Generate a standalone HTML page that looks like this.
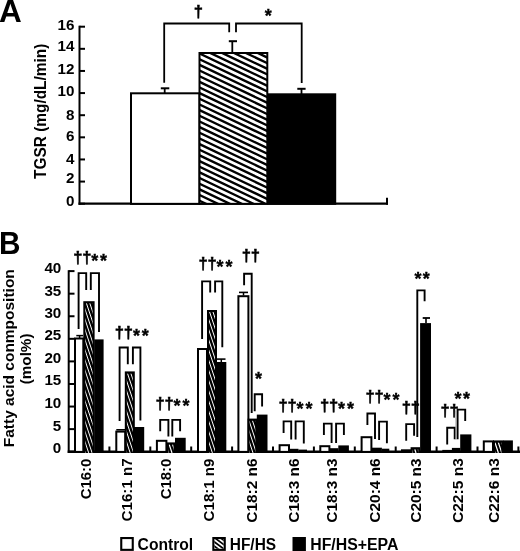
<!DOCTYPE html>
<html lang="en"><head><meta charset="utf-8"><title>Figure</title>
<style>
html,body{margin:0;padding:0;background:#fff;}
body{width:520px;height:551px;overflow:hidden;}
svg{display:block;}
text{font-family:'Liberation Sans', Arial, Helvetica, sans-serif;font-weight:bold;fill:#000;}
text.dg{stroke:#000;stroke-width:0.5px;stroke-linejoin:miter;}
text.as{stroke:#000;stroke-width:0.35px;}
</style></head><body>
<svg width="520" height="551" viewBox="0 0 520 551">
<defs>
</defs>
<rect x="0" y="0" width="520" height="551" fill="#fff"/>
<text x="-1.00" y="21.70" font-size="31.5" text-anchor="start">A</text>
<text x="46.00" y="179.00" font-size="15.6" text-anchor="start" textLength="135.40" lengthAdjust="spacingAndGlyphs" transform="rotate(-90 46.00 179.00)">TGSR (mg/dL/min)</text>
<text x="74.50" y="30.25" font-size="15.2" text-anchor="end">16</text>
<line x1="79.50" y1="26.70" x2="85.00" y2="26.70" stroke="#000" stroke-width="2" stroke-linecap="butt"/>
<text x="74.50" y="51.15" font-size="15.2" text-anchor="end">14</text>
<line x1="79.50" y1="48.82" x2="85.00" y2="48.82" stroke="#000" stroke-width="2" stroke-linecap="butt"/>
<text x="74.50" y="74.15" font-size="15.2" text-anchor="end">12</text>
<line x1="79.50" y1="70.95" x2="85.00" y2="70.95" stroke="#000" stroke-width="2" stroke-linecap="butt"/>
<text x="74.50" y="96.15" font-size="15.2" text-anchor="end">10</text>
<line x1="79.50" y1="93.07" x2="85.00" y2="93.07" stroke="#000" stroke-width="2" stroke-linecap="butt"/>
<text x="74.50" y="119.95" font-size="15.2" text-anchor="end">8</text>
<line x1="79.50" y1="115.20" x2="85.00" y2="115.20" stroke="#000" stroke-width="2" stroke-linecap="butt"/>
<text x="74.50" y="141.05" font-size="15.2" text-anchor="end">6</text>
<line x1="79.50" y1="137.32" x2="85.00" y2="137.32" stroke="#000" stroke-width="2" stroke-linecap="butt"/>
<text x="74.50" y="163.55" font-size="15.2" text-anchor="end">4</text>
<line x1="79.50" y1="159.45" x2="85.00" y2="159.45" stroke="#000" stroke-width="2" stroke-linecap="butt"/>
<text x="74.50" y="183.25" font-size="15.2" text-anchor="end">2</text>
<line x1="79.50" y1="181.57" x2="85.00" y2="181.57" stroke="#000" stroke-width="2" stroke-linecap="butt"/>
<text x="74.50" y="206.05" font-size="15.2" text-anchor="end">0</text>
<line x1="79.50" y1="203.70" x2="85.00" y2="203.70" stroke="#000" stroke-width="2" stroke-linecap="butt"/>
<line x1="79.50" y1="25.70" x2="79.50" y2="204.85" stroke="#000" stroke-width="2" stroke-linecap="butt"/>
<line x1="78.50" y1="203.70" x2="388.00" y2="203.70" stroke="#000" stroke-width="2.3" stroke-linecap="butt"/>
<line x1="387.00" y1="197.70" x2="387.00" y2="204.85" stroke="#000" stroke-width="2" stroke-linecap="butt"/>
<rect x="131.00" y="93.30" width="68.50" height="110.55" fill="#fff" stroke="#000" stroke-width="2"/>
<rect x="199.50" y="53.00" width="67.80" height="150.85" fill="#fff" stroke="#000" stroke-width="2"/>
<clipPath id="ca"><rect x="199.5" y="53" width="67.8" height="151"/></clipPath>
<path d="M198.5 7.77L270.5 42.04M198.5 13.43L270.5 47.70M198.5 19.09L270.5 53.36M198.5 24.75L270.5 59.02M198.5 30.41L270.5 64.68M198.5 36.07L270.5 70.34M198.5 41.73L270.5 76.00M198.5 47.39L270.5 81.66M198.5 53.05L270.5 87.32M198.5 58.71L270.5 92.98M198.5 64.37L270.5 98.64M198.5 70.03L270.5 104.30M198.5 75.69L270.5 109.96M198.5 81.35L270.5 115.62M198.5 87.01L270.5 121.28M198.5 92.67L270.5 126.94M198.5 98.33L270.5 132.60M198.5 103.99L270.5 138.26M198.5 109.65L270.5 143.92M198.5 115.31L270.5 149.58M198.5 120.97L270.5 155.24M198.5 126.63L270.5 160.90M198.5 132.29L270.5 166.56M198.5 137.95L270.5 172.22M198.5 143.61L270.5 177.88M198.5 149.27L270.5 183.54M198.5 154.93L270.5 189.20M198.5 160.59L270.5 194.86M198.5 166.25L270.5 200.52M198.5 171.91L270.5 206.18M198.5 177.57L270.5 211.84M198.5 183.23L270.5 217.50M198.5 188.89L270.5 223.16M198.5 194.55L270.5 228.82M198.5 200.21L270.5 234.48" stroke="#000" stroke-width="2.35" fill="none" clip-path="url(#ca)"/>
<rect x="267.30" y="93.30" width="68.90" height="111.55" fill="#000"/>
<line x1="164.70" y1="93.00" x2="164.70" y2="88.30" stroke="#000" stroke-width="1.8" stroke-linecap="butt"/>
<line x1="160.80" y1="88.30" x2="169.30" y2="88.30" stroke="#000" stroke-width="2" stroke-linecap="butt"/>
<line x1="232.30" y1="53.00" x2="232.30" y2="41.20" stroke="#000" stroke-width="1.8" stroke-linecap="butt"/>
<line x1="228.80" y1="41.20" x2="237.00" y2="41.20" stroke="#000" stroke-width="2" stroke-linecap="butt"/>
<line x1="301.50" y1="94.00" x2="301.50" y2="88.80" stroke="#000" stroke-width="1.8" stroke-linecap="butt"/>
<line x1="297.30" y1="88.80" x2="305.60" y2="88.80" stroke="#000" stroke-width="2" stroke-linecap="butt"/>
<polyline points="164.20,82.80 164.20,23.50 229.20,23.50 229.20,32.30" fill="none" stroke="#000" stroke-width="1.8" stroke-linejoin="miter"/>
<polyline points="236.00,32.30 236.00,23.50 301.70,23.50 301.70,83.00" fill="none" stroke="#000" stroke-width="1.8" stroke-linejoin="miter"/>
<text class="dg" x="193.77" y="17.27" font-size="16.6">†</text>
<text class="as" x="264.79" y="21.89" font-size="18">*</text>
<text x="-1.00" y="254.10" font-size="30.8" text-anchor="start" textLength="21.50" lengthAdjust="spacingAndGlyphs">B</text>
<text x="14.20" y="447.20" font-size="15.2" text-anchor="start" textLength="178.00" lengthAdjust="spacingAndGlyphs" transform="rotate(-90 14.20 447.20)">Fatty acid conmposition</text>
<text x="31.50" y="384.30" font-size="15.5" text-anchor="start" textLength="50.80" lengthAdjust="spacingAndGlyphs" transform="rotate(-90 31.50 384.30)">(mol%)</text>
<text x="61.30" y="453.45" font-size="15.2" text-anchor="end">0</text>
<line x1="68.70" y1="451.70" x2="74.50" y2="451.70" stroke="#000" stroke-width="2" stroke-linecap="butt"/>
<text x="61.30" y="430.55" font-size="15.2" text-anchor="end">5</text>
<line x1="68.70" y1="429.12" x2="74.50" y2="429.12" stroke="#000" stroke-width="2" stroke-linecap="butt"/>
<text x="61.30" y="408.05" font-size="15.2" text-anchor="end">10</text>
<line x1="68.70" y1="406.55" x2="74.50" y2="406.55" stroke="#000" stroke-width="2" stroke-linecap="butt"/>
<text x="61.30" y="385.45" font-size="15.2" text-anchor="end">15</text>
<line x1="68.70" y1="383.98" x2="74.50" y2="383.98" stroke="#000" stroke-width="2" stroke-linecap="butt"/>
<text x="61.30" y="363.25" font-size="15.2" text-anchor="end">20</text>
<line x1="68.70" y1="361.40" x2="74.50" y2="361.40" stroke="#000" stroke-width="2" stroke-linecap="butt"/>
<text x="61.30" y="340.15" font-size="15.2" text-anchor="end">25</text>
<line x1="68.70" y1="338.82" x2="74.50" y2="338.82" stroke="#000" stroke-width="2" stroke-linecap="butt"/>
<text x="61.30" y="317.95" font-size="15.2" text-anchor="end">30</text>
<line x1="68.70" y1="316.25" x2="74.50" y2="316.25" stroke="#000" stroke-width="2" stroke-linecap="butt"/>
<text x="61.30" y="295.95" font-size="15.2" text-anchor="end">35</text>
<line x1="68.70" y1="293.68" x2="74.50" y2="293.68" stroke="#000" stroke-width="2" stroke-linecap="butt"/>
<text x="61.30" y="272.65" font-size="15.2" text-anchor="end">40</text>
<line x1="68.70" y1="271.10" x2="74.50" y2="271.10" stroke="#000" stroke-width="2" stroke-linecap="butt"/>
<line x1="68.70" y1="270.20" x2="68.70" y2="452.95" stroke="#000" stroke-width="2" stroke-linecap="butt"/>
<line x1="67.70" y1="451.70" x2="520.00" y2="451.70" stroke="#000" stroke-width="2.4" stroke-linecap="butt"/>
<line x1="109.40" y1="446.50" x2="109.40" y2="452.90" stroke="#000" stroke-width="2" stroke-linecap="butt"/>
<line x1="150.30" y1="446.50" x2="150.30" y2="452.90" stroke="#000" stroke-width="2" stroke-linecap="butt"/>
<line x1="191.20" y1="446.50" x2="191.20" y2="452.90" stroke="#000" stroke-width="2" stroke-linecap="butt"/>
<line x1="232.10" y1="446.50" x2="232.10" y2="452.90" stroke="#000" stroke-width="2" stroke-linecap="butt"/>
<line x1="273.00" y1="446.50" x2="273.00" y2="452.90" stroke="#000" stroke-width="2" stroke-linecap="butt"/>
<line x1="313.90" y1="446.50" x2="313.90" y2="452.90" stroke="#000" stroke-width="2" stroke-linecap="butt"/>
<line x1="354.80" y1="446.50" x2="354.80" y2="452.90" stroke="#000" stroke-width="2" stroke-linecap="butt"/>
<line x1="395.70" y1="446.50" x2="395.70" y2="452.90" stroke="#000" stroke-width="2" stroke-linecap="butt"/>
<line x1="436.60" y1="446.50" x2="436.60" y2="452.90" stroke="#000" stroke-width="2" stroke-linecap="butt"/>
<line x1="477.50" y1="446.50" x2="477.50" y2="452.90" stroke="#000" stroke-width="2" stroke-linecap="butt"/>
<line x1="518.40" y1="446.50" x2="518.40" y2="452.90" stroke="#000" stroke-width="2" stroke-linecap="butt"/>
<rect x="75.00" y="338.50" width="8.30" height="113.40" fill="#fff" stroke="#000" stroke-width="2"/>
<rect x="83.30" y="301.20" width="11.30" height="151.70" fill="#000"/>
<clipPath id="c1"><rect x="85.30" y="303.20" width="7.30" height="149.70"/></clipPath>
<path d="M81.90 452.90L32.00 303.20M85.30 452.90L35.40 303.20M88.70 452.90L38.80 303.20M92.10 452.90L42.20 303.20M95.50 452.90L45.60 303.20M98.90 452.90L49.00 303.20M102.30 452.90L52.40 303.20M105.70 452.90L55.80 303.20M109.10 452.90L59.20 303.20M112.50 452.90L62.60 303.20M115.90 452.90L66.00 303.20M119.30 452.90L69.40 303.20M122.70 452.90L72.80 303.20M126.10 452.90L76.20 303.20M129.50 452.90L79.60 303.20M132.90 452.90L83.00 303.20M136.30 452.90L86.40 303.20M139.70 452.90L89.80 303.20M143.10 452.90L93.20 303.20" stroke="#fff" stroke-width="1.0" fill="none" clip-path="url(#c1)"/>
<rect x="94.20" y="339.40" width="9.40" height="113.50" fill="#000"/>
<rect x="116.30" y="431.60" width="8.90" height="20.30" fill="#fff" stroke="#000" stroke-width="2"/>
<rect x="124.80" y="371.40" width="10.00" height="81.50" fill="#000"/>
<clipPath id="c2"><rect x="126.80" y="373.40" width="6.00" height="79.50"/></clipPath>
<path d="M123.40 452.90L96.90 373.40M126.80 452.90L100.30 373.40M130.20 452.90L103.70 373.40M133.60 452.90L107.10 373.40M137.00 452.90L110.50 373.40M140.40 452.90L113.90 373.40M143.80 452.90L117.30 373.40M147.20 452.90L120.70 373.40M150.60 452.90L124.10 373.40M154.00 452.90L127.50 373.40M157.40 452.90L130.90 373.40M160.80 452.90L134.30 373.40" stroke="#fff" stroke-width="1.0" fill="none" clip-path="url(#c2)"/>
<rect x="134.00" y="427.00" width="10.20" height="25.90" fill="#000"/>
<rect x="156.90" y="440.80" width="9.50" height="11.10" fill="#fff" stroke="#000" stroke-width="2"/>
<rect x="166.60" y="442.40" width="8.90" height="10.50" fill="#000"/>
<clipPath id="c3"><rect x="168.60" y="444.40" width="4.90" height="8.50"/></clipPath>
<path d="M165.20 452.90L162.37 444.40M168.60 452.90L165.77 444.40M172.00 452.90L169.17 444.40M175.40 452.90L172.57 444.40M178.80 452.90L175.97 444.40" stroke="#fff" stroke-width="1.25" fill="none" clip-path="url(#c3)"/>
<rect x="175.00" y="437.80" width="10.70" height="15.10" fill="#000"/>
<rect x="198.00" y="349.00" width="9.00" height="102.90" fill="#fff" stroke="#000" stroke-width="2"/>
<rect x="207.00" y="310.00" width="10.00" height="142.90" fill="#000"/>
<clipPath id="c4"><rect x="209.00" y="312.00" width="6.00" height="140.90"/></clipPath>
<path d="M205.60 452.90L158.63 312.00M209.00 452.90L162.03 312.00M212.40 452.90L165.43 312.00M215.80 452.90L168.83 312.00M219.20 452.90L172.23 312.00M222.60 452.90L175.63 312.00M226.00 452.90L179.03 312.00M229.40 452.90L182.43 312.00M232.80 452.90L185.83 312.00M236.20 452.90L189.23 312.00M239.60 452.90L192.63 312.00M243.00 452.90L196.03 312.00M246.40 452.90L199.43 312.00M249.80 452.90L202.83 312.00M253.20 452.90L206.23 312.00M256.60 452.90L209.63 312.00M260.00 452.90L213.03 312.00M263.40 452.90L216.43 312.00" stroke="#fff" stroke-width="1.0" fill="none" clip-path="url(#c4)"/>
<rect x="216.40" y="362.00" width="9.90" height="90.90" fill="#000"/>
<rect x="238.40" y="296.20" width="10.00" height="155.70" fill="#fff" stroke="#000" stroke-width="2"/>
<rect x="247.60" y="418.60" width="9.70" height="34.30" fill="#000"/>
<clipPath id="c5"><rect x="249.60" y="420.60" width="5.70" height="32.30"/></clipPath>
<path d="M246.20 452.90L235.43 420.60M249.60 452.90L238.83 420.60M253.00 452.90L242.23 420.60M256.40 452.90L245.63 420.60M259.80 452.90L249.03 420.60M263.20 452.90L252.43 420.60M266.60 452.90L255.83 420.60" stroke="#fff" stroke-width="1.0" fill="none" clip-path="url(#c5)"/>
<rect x="256.80" y="414.60" width="10.70" height="38.30" fill="#000"/>
<rect x="279.60" y="445.20" width="9.40" height="6.70" fill="#fff" stroke="#000" stroke-width="2"/>
<rect x="289.80" y="448.80" width="8.70" height="4.10" fill="#000"/>
<rect x="298.50" y="449.60" width="8.50" height="3.30" fill="#000"/>
<rect x="320.30" y="446.20" width="9.10" height="5.70" fill="#fff" stroke="#000" stroke-width="2"/>
<rect x="329.80" y="448.20" width="8.70" height="4.70" fill="#000"/>
<rect x="338.30" y="445.40" width="10.60" height="7.50" fill="#000"/>
<rect x="361.60" y="437.20" width="9.80" height="14.70" fill="#fff" stroke="#000" stroke-width="2"/>
<rect x="371.80" y="447.70" width="10.10" height="5.20" fill="#000"/>
<rect x="381.90" y="448.70" width="7.40" height="4.20" fill="#000"/>
<rect x="401.00" y="449.30" width="10.00" height="3.60" fill="#000"/>
<rect x="410.60" y="447.20" width="9.60" height="5.70" fill="#000"/>
<clipPath id="c6"><rect x="412.60" y="449.20" width="5.60" height="3.70"/></clipPath>
<path d="M409.20 452.90L407.97 449.20M412.60 452.90L411.37 449.20M416.00 452.90L414.77 449.20M419.40 452.90L418.17 449.20M422.80 452.90L421.57 449.20" stroke="#fff" stroke-width="1.25" fill="none" clip-path="url(#c6)"/>
<rect x="420.10" y="323.10" width="10.90" height="129.80" fill="#000"/>
<rect x="442.30" y="449.90" width="9.70" height="3.00" fill="#000"/>
<rect x="451.90" y="447.90" width="8.50" height="5.00" fill="#000"/>
<rect x="460.20" y="434.40" width="11.20" height="18.50" fill="#000"/>
<rect x="483.80" y="441.40" width="9.20" height="10.50" fill="#fff" stroke="#000" stroke-width="2"/>
<rect x="493.00" y="440.40" width="10.40" height="12.50" fill="#000"/>
<clipPath id="c7"><rect x="495.00" y="442.40" width="6.40" height="10.50"/></clipPath>
<path d="M491.60 452.90L488.10 442.40M495.00 452.90L491.50 442.40M498.40 452.90L494.90 442.40M501.80 452.90L498.30 442.40M505.20 452.90L501.70 442.40" stroke="#fff" stroke-width="1.25" fill="none" clip-path="url(#c7)"/>
<rect x="503.00" y="440.40" width="9.90" height="12.50" fill="#000"/>
<line x1="79.60" y1="338.00" x2="79.60" y2="335.60" stroke="#000" stroke-width="1.5" stroke-linecap="butt"/>
<line x1="76.30" y1="335.60" x2="83.00" y2="335.60" stroke="#000" stroke-width="1.5" stroke-linecap="butt"/>
<line x1="116.30" y1="429.80" x2="125.20" y2="429.80" stroke="#000" stroke-width="1.6" stroke-linecap="butt"/>
<line x1="221.30" y1="362.00" x2="221.30" y2="359.10" stroke="#000" stroke-width="1.5" stroke-linecap="butt"/>
<line x1="216.80" y1="359.10" x2="225.50" y2="359.10" stroke="#000" stroke-width="1.6" stroke-linecap="butt"/>
<line x1="243.50" y1="295.50" x2="243.50" y2="292.40" stroke="#000" stroke-width="1.5" stroke-linecap="butt"/>
<line x1="239.00" y1="292.40" x2="248.00" y2="292.40" stroke="#000" stroke-width="1.6" stroke-linecap="butt"/>
<line x1="426.00" y1="323.10" x2="426.00" y2="318.00" stroke="#000" stroke-width="1.6" stroke-linecap="butt"/>
<line x1="422.70" y1="318.00" x2="430.00" y2="318.00" stroke="#000" stroke-width="1.8" stroke-linecap="butt"/>
<polyline points="78.60,329.00 78.60,273.10 86.20,273.10 86.20,290.00" fill="none" stroke="#000" stroke-width="1.9" stroke-linejoin="miter"/>
<polyline points="90.80,290.00 90.80,273.10 99.00,273.10 99.00,331.90" fill="none" stroke="#000" stroke-width="1.9" stroke-linejoin="miter"/>
<polyline points="119.60,420.90 119.60,347.50 127.80,347.50 127.80,364.20" fill="none" stroke="#000" stroke-width="1.9" stroke-linejoin="miter"/>
<polyline points="132.90,364.20 132.90,347.50 140.40,347.50 140.40,420.40" fill="none" stroke="#000" stroke-width="1.9" stroke-linejoin="miter"/>
<polyline points="160.20,431.20 160.20,419.90 168.40,419.90 168.40,436.40" fill="none" stroke="#000" stroke-width="1.9" stroke-linejoin="miter"/>
<polyline points="172.30,436.40 172.30,419.90 180.10,419.90 180.10,431.20" fill="none" stroke="#000" stroke-width="1.9" stroke-linejoin="miter"/>
<polyline points="202.10,339.00 202.10,281.40 210.20,281.40 210.20,292.40" fill="none" stroke="#000" stroke-width="1.9" stroke-linejoin="miter"/>
<polyline points="215.10,292.40 215.10,281.40 222.30,281.40 222.30,347.30" fill="none" stroke="#000" stroke-width="1.9" stroke-linejoin="miter"/>
<polyline points="244.10,285.20 244.10,273.70 251.70,273.70 251.70,412.90" fill="none" stroke="#000" stroke-width="1.9" stroke-linejoin="miter"/>
<polyline points="254.70,411.30 254.70,394.30 262.10,394.30 262.10,406.40" fill="none" stroke="#000" stroke-width="1.9" stroke-linejoin="miter"/>
<polyline points="283.60,432.90 283.60,421.40 291.20,421.40 291.20,439.60" fill="none" stroke="#000" stroke-width="1.9" stroke-linejoin="miter"/>
<polyline points="295.60,439.60 295.60,421.40 303.80,421.40 303.80,443.50" fill="none" stroke="#000" stroke-width="1.9" stroke-linejoin="miter"/>
<polyline points="323.90,435.10 323.90,423.60 331.60,423.60 331.60,443.00" fill="none" stroke="#000" stroke-width="1.9" stroke-linejoin="miter"/>
<polyline points="336.10,443.00 336.10,423.60 343.90,423.60 343.90,435.10" fill="none" stroke="#000" stroke-width="1.9" stroke-linejoin="miter"/>
<polyline points="367.40,425.00 367.40,413.50 375.00,413.50 375.00,439.10" fill="none" stroke="#000" stroke-width="1.9" stroke-linejoin="miter"/>
<polyline points="379.10,440.10 379.10,421.60 386.90,421.60 386.90,443.20" fill="none" stroke="#000" stroke-width="1.9" stroke-linejoin="miter"/>
<polyline points="406.20,440.70 406.20,424.10 414.10,424.10 414.10,435.70" fill="none" stroke="#000" stroke-width="1.9" stroke-linejoin="miter"/>
<polyline points="417.30,437.00 417.30,290.40 424.60,290.40 424.60,301.30" fill="none" stroke="#000" stroke-width="1.9" stroke-linejoin="miter"/>
<polyline points="447.20,444.40 447.20,427.80 454.70,427.80 454.70,439.30" fill="none" stroke="#000" stroke-width="1.9" stroke-linejoin="miter"/>
<polyline points="457.60,439.30 457.60,409.60 465.20,409.60 465.20,420.90" fill="none" stroke="#000" stroke-width="1.9" stroke-linejoin="miter"/>
<line x1="456.20" y1="410.50" x2="456.20" y2="439.30" stroke="#999" stroke-width="1.4" stroke-linecap="butt"/>
<text class="dg" x="73.17" y="263.47" font-size="16.6">†</text>
<text class="dg" x="82.17" y="263.47" font-size="16.6">†</text>
<text class="as" x="91.18" y="266.88" font-size="18">*</text>
<text class="as" x="100.08" y="266.88" font-size="18">*</text>
<text class="dg" x="114.87" y="338.37" font-size="16.6">†</text>
<text class="dg" x="123.87" y="338.37" font-size="16.6">†</text>
<text class="as" x="132.89" y="341.78" font-size="18">*</text>
<text class="as" x="141.78" y="341.78" font-size="18">*</text>
<text class="dg" x="155.57" y="409.07" font-size="16.6">†</text>
<text class="dg" x="164.57" y="409.07" font-size="16.6">†</text>
<text class="as" x="173.59" y="412.48" font-size="18">*</text>
<text class="as" x="182.49" y="412.48" font-size="18">*</text>
<text class="dg" x="198.47" y="269.47" font-size="16.6">†</text>
<text class="dg" x="207.47" y="269.47" font-size="16.6">†</text>
<text class="as" x="216.49" y="272.88" font-size="18">*</text>
<text class="as" x="225.39" y="272.88" font-size="18">*</text>
<text class="dg" x="241.67" y="260.67" font-size="16.6">†</text>
<text class="dg" x="250.67" y="260.67" font-size="16.6">†</text>
<text class="as" x="254.99" y="385.38" font-size="18">*</text>
<text class="dg" x="278.57" y="411.27" font-size="16.6">†</text>
<text class="dg" x="287.57" y="411.27" font-size="16.6">†</text>
<text class="as" x="296.59" y="414.69" font-size="18">*</text>
<text class="as" x="305.49" y="414.69" font-size="18">*</text>
<text class="dg" x="320.07" y="411.27" font-size="16.6">†</text>
<text class="dg" x="329.07" y="411.27" font-size="16.6">†</text>
<text class="as" x="338.09" y="414.69" font-size="18">*</text>
<text class="as" x="346.99" y="414.69" font-size="18">*</text>
<text class="dg" x="365.57" y="402.17" font-size="16.6">†</text>
<text class="dg" x="374.57" y="402.17" font-size="16.6">†</text>
<text class="as" x="383.59" y="405.58" font-size="18">*</text>
<text class="as" x="392.49" y="405.58" font-size="18">*</text>
<text class="dg" x="401.77" y="413.47" font-size="16.6">†</text>
<text class="dg" x="410.77" y="413.47" font-size="16.6">†</text>
<text class="as" x="414.49" y="284.69" font-size="18">*</text>
<text class="as" x="422.79" y="284.69" font-size="18">*</text>
<text class="dg" x="440.47" y="416.37" font-size="16.6">†</text>
<text class="dg" x="449.47" y="416.37" font-size="16.6">†</text>
<text class="as" x="454.59" y="404.88" font-size="18">*</text>
<text class="as" x="462.89" y="404.88" font-size="18">*</text>
<text x="91.40" y="499.30" font-size="15.5" text-anchor="start" textLength="40.70" lengthAdjust="spacingAndGlyphs" transform="rotate(-90 91.40 499.30)">C16:0</text>
<text x="131.60" y="521.40" font-size="15.5" text-anchor="start" textLength="63.10" lengthAdjust="spacingAndGlyphs" transform="rotate(-90 131.60 521.40)">C16:1 n7</text>
<text x="171.40" y="499.30" font-size="15.5" text-anchor="start" textLength="40.70" lengthAdjust="spacingAndGlyphs" transform="rotate(-90 171.40 499.30)">C18:0</text>
<text x="213.90" y="521.40" font-size="15.5" text-anchor="start" textLength="62.90" lengthAdjust="spacingAndGlyphs" transform="rotate(-90 213.90 521.40)">C18:1 n9</text>
<text x="257.40" y="522.70" font-size="15.5" text-anchor="start" textLength="64.20" lengthAdjust="spacingAndGlyphs" transform="rotate(-90 257.40 522.70)">C18:2 n6</text>
<text x="299.50" y="522.70" font-size="15.5" text-anchor="start" textLength="64.20" lengthAdjust="spacingAndGlyphs" transform="rotate(-90 299.50 522.70)">C18:3 n6</text>
<text x="337.00" y="522.70" font-size="15.5" text-anchor="start" textLength="64.20" lengthAdjust="spacingAndGlyphs" transform="rotate(-90 337.00 522.70)">C18:3 n3</text>
<text x="380.30" y="522.70" font-size="15.5" text-anchor="start" textLength="64.40" lengthAdjust="spacingAndGlyphs" transform="rotate(-90 380.30 522.70)">C20:4 n6</text>
<text x="421.30" y="522.70" font-size="15.5" text-anchor="start" textLength="64.20" lengthAdjust="spacingAndGlyphs" transform="rotate(-90 421.30 522.70)">C20:5 n3</text>
<text x="462.90" y="523.00" font-size="15.5" text-anchor="start" textLength="64.80" lengthAdjust="spacingAndGlyphs" transform="rotate(-90 462.90 523.00)">C22:5 n3</text>
<text x="498.50" y="523.00" font-size="15.5" text-anchor="start" textLength="64.80" lengthAdjust="spacingAndGlyphs" transform="rotate(-90 498.50 523.00)">C22:6 n3</text>
<rect x="121.25" y="538.05" width="11.50" height="11.80" fill="#fff" stroke="#000" stroke-width="2.1"/>
<text x="137.60" y="549.50" font-size="16" text-anchor="start" textLength="55.60" lengthAdjust="spacingAndGlyphs">Control</text>
<rect x="212.30" y="537.00" width="13.50" height="13.90" fill="#000"/>
<clipPath id="cl"><rect x="214.4" y="539.1" width="9.3" height="9.7"/></clipPath>
<rect x="214.4" y="539.1" width="9.3" height="9.7" fill="#fff"/>
<path d="M212 514.30L228 526.30M212 518.60L228 530.60M212 522.90L228 534.90M212 527.20L228 539.20M212 531.50L228 543.50M212 535.80L228 547.80M212 540.10L228 552.10M212 544.40L228 556.40M212 548.70L228 560.70M212 553.00L228 565.00M212 557.30L228 569.30M212 561.60L228 573.60M212 565.90L228 577.90M212 570.20L228 582.20" stroke="#000" stroke-width="1.7" fill="none" clip-path="url(#cl)"/>
<text x="229.80" y="549.50" font-size="16" text-anchor="start" textLength="46.30" lengthAdjust="spacingAndGlyphs">HF/HS</text>
<rect x="292.50" y="537.00" width="13.40" height="14.00" fill="#000"/>
<text x="310.20" y="549.50" font-size="16" text-anchor="start" textLength="88.20" lengthAdjust="spacingAndGlyphs">HF/HS+EPA</text>
</svg>
</body></html>
